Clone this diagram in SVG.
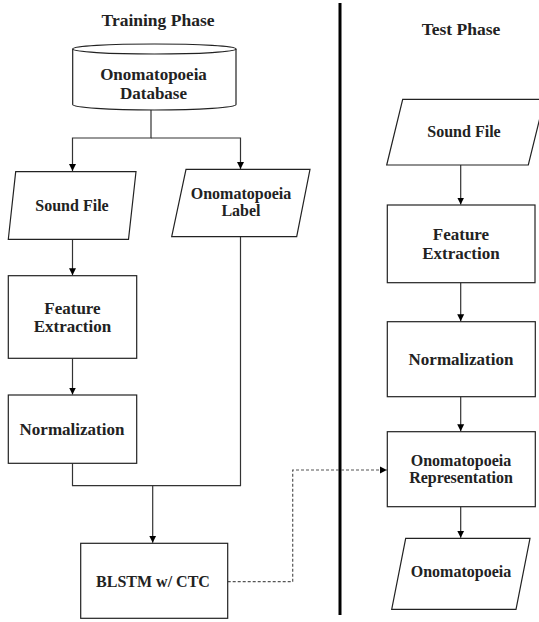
<svg xmlns="http://www.w3.org/2000/svg" width="539" height="622" viewBox="0 0 539 622">
<style>
  .shape { fill: #fff; stroke: #222; stroke-width: 1.2; }
  .conn { fill: none; stroke: #333; stroke-width: 1.2; }
  .dash { fill: none; stroke: #555; stroke-width: 1.2; stroke-dasharray: 3 2; }
  text { font-family: "Liberation Serif", "Times New Roman", serif; font-weight: bold; fill: #222; text-anchor: middle; }
  .title { font-size: 17.5px; }
  .big { font-size: 17px; }
  .small { font-size: 16px; }
</style>
<defs>
  <marker id="arr" markerUnits="userSpaceOnUse" markerWidth="8" markerHeight="8" refX="7" refY="4" orient="auto">
    <path d="M0,0.5 L7,4 L0,7.5 z" fill="#000"/>
  </marker>
</defs>

<text class="title" x="158" y="26">Training Phase</text>
<text class="title" x="461" y="35">Test Phase</text>
<line x1="340" y1="3" x2="340" y2="615" stroke="#000" stroke-width="3"/>

<g id="connectors">
  <path class="conn" d="M151,110 V138 H72.5 V171" marker-end="url(#arr)"/>
  <path class="conn" d="M151,138 H240.5 V169" marker-end="url(#arr)"/>
  <path class="conn" d="M72.5,239.3 V275.2" marker-end="url(#arr)"/>
  <path class="conn" d="M72.5,358.3 V394.5" marker-end="url(#arr)"/>
  <path class="conn" d="M72.5,463.3 V485.7 H240.5 V236.7"/>
  <path class="conn" d="M152.7,485.7 V542.8" marker-end="url(#arr)"/>
  <path class="dash" d="M227.7,581.7 H292.7 V470 H386.8" marker-end="url(#arr)"/>
  <path class="conn" d="M460.7,165 V204.5" marker-end="url(#arr)"/>
  <path class="conn" d="M460.7,282.7 V321.2" marker-end="url(#arr)"/>
  <path class="conn" d="M460.7,396.7 V431.2" marker-end="url(#arr)"/>
  <path class="conn" d="M460.7,506.7 V537.8" marker-end="url(#arr)"/>
</g>

<g id="database">
  <path class="shape" d="M72.7,49 V104.5 A81.65,5.5 0 0 0 236,104.5 V49"/>
  <ellipse class="shape" cx="154.35" cy="49" rx="81.65" ry="5"/>
  <text class="big" x="153.5" y="80.3">Onomatopoeia</text>
  <text class="big" x="153.5" y="98.6">Database</text>
</g>

<g id="train-sound-file">
  <polygon class="shape" points="15.7,171.7 136,171.7 128.5,239.3 8.3,239.3"/>
  <text class="small" x="72" y="210.7">Sound File</text>
</g>

<g id="onomatopoeia-label">
  <polygon class="shape" points="186,169.3 310,169.3 296.7,236.7 171.7,236.7"/>
  <text class="small" x="241" y="198.6">Onomatopoeia</text>
  <text class="small" x="241" y="216">Label</text>
</g>

<g id="train-feature-extraction">
  <rect class="shape" x="8.3" y="275.7" width="128.4" height="82.6"/>
  <text class="big" x="72.5" y="313.6">Feature</text>
  <text class="big" x="72.5" y="332">Extraction</text>
</g>

<g id="train-normalization">
  <rect class="shape" x="8.3" y="395" width="128.4" height="68.3"/>
  <text class="big" x="72" y="435">Normalization</text>
</g>

<g id="blstm">
  <rect class="shape" x="80.7" y="543.3" width="147" height="75"/>
  <text class="small" x="153" y="586.7">BLSTM w/ CTC</text>
</g>

<g id="test-sound-file">
  <polygon class="shape" points="402.7,99.3 544.5,99.3 528.3,165 386.7,165"/>
  <text class="small" x="464" y="136.7">Sound File</text>
</g>

<g id="test-feature-extraction">
  <rect class="shape" x="387.3" y="205" width="147.7" height="77.7"/>
  <text class="big" x="461" y="239.6">Feature</text>
  <text class="big" x="461" y="258.6">Extraction</text>
</g>

<g id="test-normalization">
  <rect class="shape" x="387.3" y="321.7" width="148" height="75"/>
  <text class="big" x="461" y="365">Normalization</text>
</g>

<g id="onomatopoeia-representation">
  <rect class="shape" x="387.3" y="431.7" width="148" height="75"/>
  <text class="small" x="461" y="466.3">Onomatopoeia</text>
  <text class="small" x="461" y="483.3">Representation</text>
</g>

<g id="onomatopoeia-output">
  <polygon class="shape" points="405.7,538.3 530,538.3 516,609.3 391.7,609.3"/>
  <text class="small" x="461" y="577.3">Onomatopoeia</text>
</g>
</svg>
